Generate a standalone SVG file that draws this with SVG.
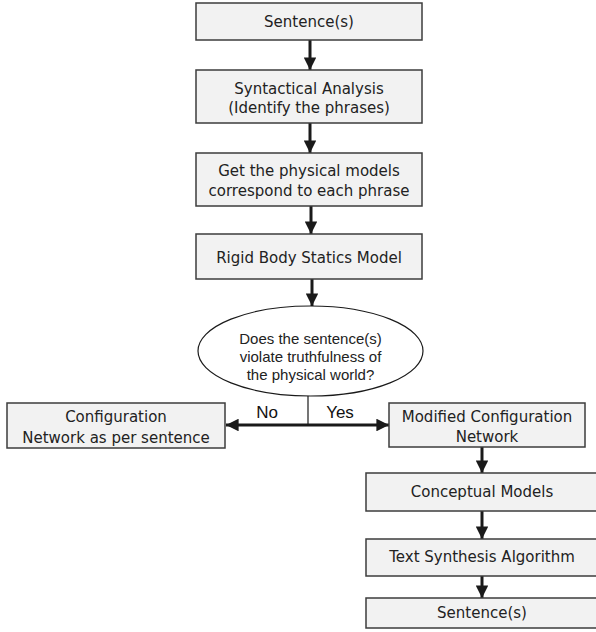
<svg xmlns="http://www.w3.org/2000/svg" width="596" height="632" viewBox="0 0 596 632">
<style>
.box{fill:#f2f2f2;stroke:#3c3c3c;stroke-width:1.5}
.t{font-family:"DejaVu Sans",Verdana,sans-serif;font-size:15px;fill:#222;text-anchor:middle}
.q{font-family:"Liberation Sans",Arial,sans-serif;font-size:15px;fill:#222;text-anchor:middle}
.yn{font-family:"Liberation Sans",Arial,sans-serif;font-size:17px;fill:#111;text-anchor:middle}
.ln{stroke:#1a1a1a;stroke-width:3;fill:none}
.thin{stroke:#1a1a1a;stroke-width:1.2;fill:none}
</style>
<defs>
<marker id="ah" viewBox="0 0 10 10" refX="10" refY="5" markerWidth="4.2" markerHeight="4.2" orient="auto" markerUnits="strokeWidth">
<path d="M0,0 L10,5 L0,10 z" fill="#1a1a1a"/>
</marker>
</defs>
<rect width="596" height="632" fill="#fff"/>
<g id="connectors">
<line class="ln" x1="310" y1="40" x2="310" y2="70" marker-end="url(#ah)"/>
<line class="ln" x1="310" y1="123" x2="310" y2="153" marker-end="url(#ah)"/>
<line class="ln" x1="311" y1="206" x2="311" y2="234" marker-end="url(#ah)"/>
<line class="ln" x1="312" y1="279" x2="312" y2="306" marker-end="url(#ah)"/>
<line class="thin" x1="308" y1="396" x2="308" y2="426"/>
<line class="ln" x1="308" y1="425" x2="226" y2="425" marker-end="url(#ah)"/>
<line class="ln" x1="308" y1="425" x2="389" y2="425" marker-end="url(#ah)"/>
<line class="ln" x1="482" y1="447" x2="482" y2="473" marker-end="url(#ah)"/>
<line class="ln" x1="482" y1="511" x2="482" y2="539" marker-end="url(#ah)"/>
<line class="ln" x1="482" y1="576" x2="482" y2="598" marker-end="url(#ah)"/>
<text class="yn" x="267" y="418">No</text>
<text class="yn" x="340" y="418">Yes</text>
</g>
<g id="n1">
<rect class="box" x="196" y="3" width="226" height="37"/>
<text class="t" x="309" y="27">Sentence(s)</text>
</g>
<g id="n2">
<rect class="box" x="196" y="70" width="226" height="53"/>
<text class="t" x="309" y="94">Syntactical Analysis</text>
<text class="t" x="309" y="113">(Identify the phrases)</text>
</g>
<g id="n3">
<rect class="box" x="196" y="153" width="226" height="53"/>
<text class="t" x="309" y="176">Get the physical models</text>
<text class="t" x="309" y="196">correspond to each phrase</text>
</g>
<g id="n4">
<rect class="box" x="196" y="234" width="226" height="45"/>
<text class="t" x="309" y="263">Rigid Body Statics Model</text>
</g>
<g id="decision">
<ellipse cx="310.5" cy="351" rx="112.5" ry="45" fill="#fff" stroke="#1a1a1a" stroke-width="1.2"/>
<text class="q" x="310.5" y="344">Does the sentence(s)</text>
<text class="q" x="310.5" y="362">violate truthfulness of</text>
<text class="q" x="310.5" y="380">the physical world?</text>
</g>
<g id="n5">
<rect class="box" x="7" y="403" width="218" height="45"/>
<text class="t" x="116" y="422">Configuration</text>
<text class="t" x="116" y="443">Network as per sentence</text>
</g>
<g id="n6">
<rect class="box" x="389" y="403" width="196" height="44"/>
<text class="t" x="487" y="422">Modified Configuration</text>
<text class="t" x="487" y="442">Network</text>
</g>
<g id="n7">
<rect class="box" x="366" y="473" width="234" height="38"/>
<text class="t" x="482" y="497">Conceptual Models</text>
</g>
<g id="n8">
<rect class="box" x="366" y="539" width="234" height="37"/>
<text class="t" x="482" y="562">Text Synthesis Algorithm</text>
</g>
<g id="n9">
<rect class="box" x="366" y="598" width="234" height="30"/>
<text class="t" x="482" y="618">Sentence(s)</text>
</g>
</svg>
